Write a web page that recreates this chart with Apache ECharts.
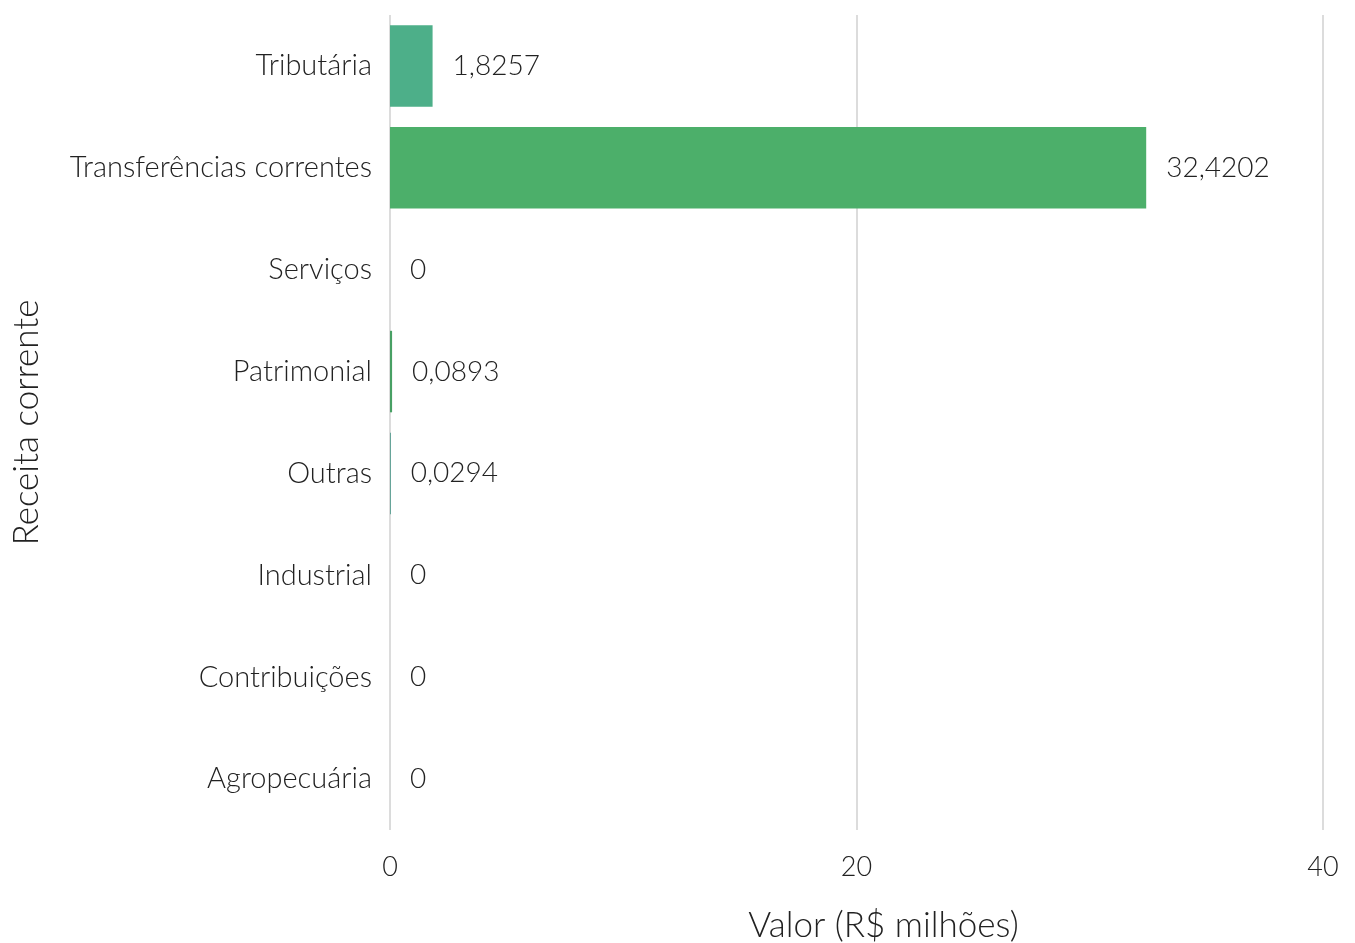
<!DOCTYPE html>
<html>
<head>
<meta charset="utf-8">
<script src="https://cdn.jsdelivr.net/npm/echarts@6/dist/echarts.min.js"></script>
<style>html,body{margin:0;padding:0;background:#fff}#c{width:1355px;height:943px}</style>
</head>
<body>
<div id="c"></div>
<script>
const categories = ["Tributária","Transferências correntes","Serviços","Patrimonial","Outras","Industrial","Contribuições","Agropecuária"];
const values = [1.8257, 32.4202, 0, 0.0893, 0.0294, 0, 0, 0];
const barColors = ["#4daf89","#4caf6a","#4caf7a","#48a064","#2f8a7a","#4caf7a","#4caf7a","#4caf7a"];
const xTicks = [0, 20, 40];

const font = "Lato";
const chart = echarts.init(document.getElementById('c'), null, {renderer:'canvas'});
const fmt = v => v === 0 ? "0" : v.toFixed(4).replace('.', ',');
chart.setOption({
  animation:false,
  backgroundColor:'#fff',
  grid:{left:390, right:32, top:15, bottom:113, containLabel:false, outerBoundsMode:'none'},
  xAxis:{
    type:'value', min:xTicks[0], max:xTicks[xTicks.length-1], interval:20,
    name:'Valor (R$ milhões)', nameLocation:'middle', nameGap:78,
    nameTextStyle:{fontFamily:font, fontWeight:300, fontSize:35, color:'#222', padding:[0,0,0,54]},
    axisLine:{show:false}, axisTick:{show:false},
    axisLabel:{fontFamily:font, fontWeight:300, fontSize:27, color:'#222', margin:24},
    splitLine:{show:true, lineStyle:{color:'#dcdcdc', width:2}}
  },
  yAxis:{
    type:'category', data:categories, inverse:true,
    name:'Receita corrente', nameLocation:'middle', nameGap:346, nameRotate:90,
    nameTextStyle:{fontFamily:font, fontWeight:300, fontSize:35, color:'#222'},
    axisLine:{show:false}, axisTick:{show:false},
    axisLabel:{fontFamily:font, fontWeight:300, fontSize:29, color:'#222', margin:18}
  },
  series:[{
    type:'bar', barCategoryGap:'20%',
    data: values.map((v,i)=>({value:v, itemStyle:{color:barColors[i]}})),
    label:{show:true, position:'right', distance:20, formatter:p=>fmt(p.value),
      fontFamily:font, fontWeight:300, fontSize:28, color:'#222'}
  }]
});
</script>
</body>
</html>
